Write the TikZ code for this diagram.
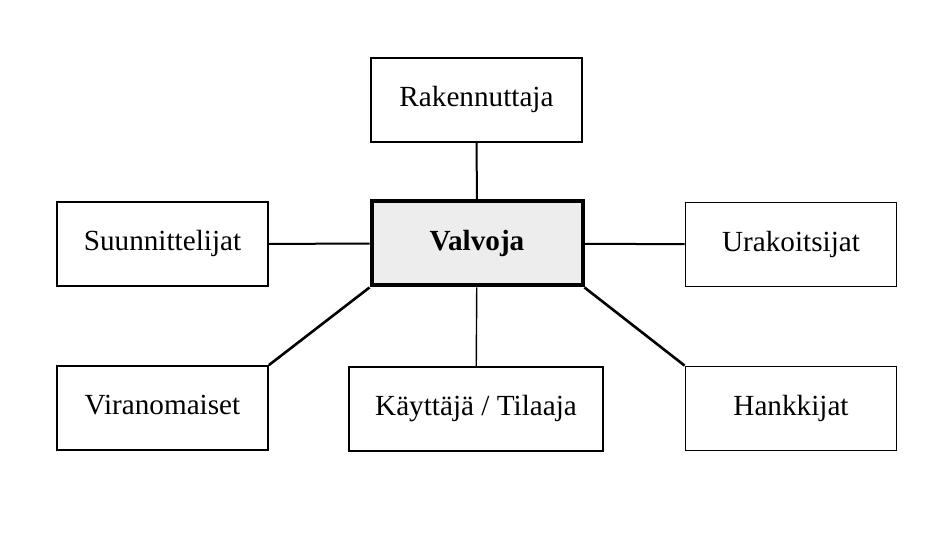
\documentclass[tikz,border=0pt]{standalone}
\usepackage{fontspec}
\setmainfont{Liberation Serif}
\begin{document}
\begin{tikzpicture}[x=0.5pt,y=-0.5pt,
    party/.style={draw, line width=0.9pt, minimum width=105.5pt, minimum height=42pt,
      inner sep=0pt, text height=10pt, text depth=3pt,
      font=\fontsize{14.6}{17}\selectfont},
    hub/.style={party, line width=2pt, fill=black!7, font=\fontsize{14.6}{17}\selectfont\bfseries}]
  \useasboundingbox (0,0) rectangle (939,533);
  \node[party] (rak) at (476.5,100) {Rakennuttaja};
  \node[hub] (val) at (477,243.5) {Valvoja};
  \node[party] (suu) at (162.5,244) {Suunnittelijat};
  \node[party] (ura) at (791,244.5) {Urakoitsijat};
  \node[party] (vir) at (162.5,408) {Viranomaiset};
  \node[party, minimum width=127pt] (kay) at (476,409) {Käyttäjä / Tilaaja};
  \node[party] (han) at (791,408.5) {Hankkijat};
  \draw [line width=1pt] (rak) -- (val);
  \draw [line width=1pt] (suu) -- (val);
  \draw [line width=1pt] (val) -- (ura);
  \draw [line width=0.7pt] (val) -- (kay);
  \draw [line width=1.3pt] (val.south west) -- (vir.north east);
  \draw [line width=1.3pt] (val.south east) -- (han.north west);
\end{tikzpicture}
\end{document}
